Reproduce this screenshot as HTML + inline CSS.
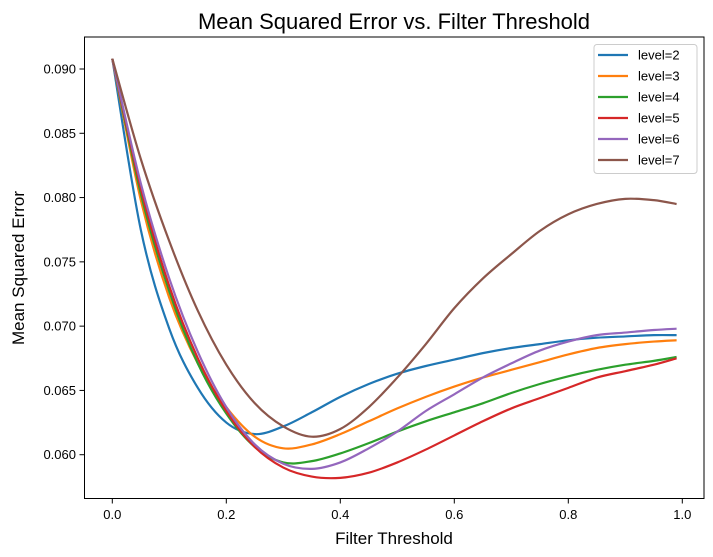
<!DOCTYPE html>
<html><head><meta charset="utf-8"><style>
body{margin:0;background:#fff;}
svg{display:block;font-family:"Liberation Sans","DejaVu Sans",sans-serif;}
</style></head><body>
<svg id="chart" width="713" height="557">
<rect x="0" y="0" width="713" height="557" fill="#fff"/>
<text x="394" y="29" font-size="22" text-anchor="middle">Mean Squared Error vs. Filter Threshold</text>
<text x="394" y="544" font-size="17" text-anchor="middle">Filter Threshold</text>
<text transform="translate(24,268) rotate(-90)" font-size="17" text-anchor="middle">Mean Squared Error</text>
<g id="ticks"></g>
<g id="lines"></g>
<rect x="84.5" y="37" width="619.5" height="461.5" fill="none" stroke="#000" stroke-width="1"/>
<g id="legend"></g>
</svg>
<script>
const xs=[0,0.05,0.1,0.15,0.2,0.25,0.3,0.35,0.4,0.45,0.5,0.55,0.6,0.65,0.7,0.75,0.8,0.85,0.9,0.95,0.99];
const labels=["level=2","level=3","level=4","level=5","level=6","level=7"];
const colors=["#1f77b4","#ff7f0e","#2ca02c","#d62728","#9467bd","#8c564b"];
const s2=[0.0908,0.0775,0.0698,0.0652,0.0625,0.0616,0.0622,0.0633,0.0645,0.0655,0.0663,0.0669,0.0674,0.0679,0.0683,0.0686,0.0689,0.0691,0.0692,0.0693,0.0693];
const s3=[0.0908,0.0798,0.0722,0.0671,0.0637,0.0614,0.0605,0.0608,0.0616,0.0626,0.0636,0.0645,0.0653,0.0660,0.0666,0.0672,0.0678,0.0683,0.0686,0.0688,0.0689];
const s4=[0.0908,0.0803,0.0727,0.0671,0.0632,0.0606,0.0594,0.0595,0.0601,0.0609,0.0618,0.0626,0.0633,0.0640,0.0648,0.0655,0.0661,0.0666,0.0670,0.0673,0.0676];
const s5=[0.0908,0.0807,0.0731,0.0675,0.0634,0.0606,0.0590,0.0583,0.0582,0.0586,0.0594,0.0604,0.0615,0.0626,0.0636,0.0644,0.0652,0.0660,0.0665,0.0670,0.0675];
const s6=[0.0908,0.0811,0.0737,0.0680,0.0637,0.0608,0.0593,0.0589,0.0594,0.0605,0.0618,0.0634,0.0647,0.0660,0.0671,0.0681,0.0688,0.0693,0.0695,0.0697,0.0698];
const s7=[0.0908,0.0830,0.0766,0.0712,0.0670,0.0640,0.0622,0.0614,0.0620,0.0637,0.0660,0.0686,0.0714,0.0737,0.0756,0.0774,0.0787,0.0795,0.0799,0.0798,0.0795];
const series=[s2,s3,s4,s5,s6,s7];
const xTicks=[0,0.2,0.4,0.6,0.8,1.0];
const xTickLabels=["0.0","0.2","0.4","0.6","0.8","1.0"];
const yTicks=[0.060,0.065,0.070,0.075,0.080,0.085,0.090];
const yTickLabels=["0.060","0.065","0.070","0.075","0.080","0.085","0.090"];
const X=v=>112.3+v*570;
const Y=v=>69-(v-0.090)*12857;
const NS="http://www.w3.org/2000/svg";
const tg=document.getElementById('ticks');
function mk(tag,attrs,parent){const e=document.createElementNS(NS,tag);for(const k in attrs)e.setAttribute(k,attrs[k]);parent.appendChild(e);return e;}
xTicks.forEach((t,i)=>{
  const l=mk('line',{x1:X(t),x2:X(t),y1:498.5,y2:503.5,stroke:'#000'},tg);
  
  
  const tx=mk('text',{x:X(t),y:519,'font-size':13,'text-anchor':'middle'},tg);
  tx.textContent=xTickLabels[i];
  
  
});
yTicks.forEach((t,i)=>{
  const l=mk('line',{x1:79.5,x2:84.5,y1:Y(t),y2:Y(t),stroke:'#000'},tg);
  
  
  const tx=mk('text',{x:76,y:Y(t)+4.5,'font-size':13,'text-anchor':'end'},tg);
  tx.textContent=yTickLabels[i];
  
  
});
function smooth(pts){
  let d=`M${pts[0][0]},${pts[0][1]}`;
  for(let i=0;i<pts.length-1;i++){
    const p0=pts[i-1]||pts[i],p1=pts[i],p2=pts[i+1],p3=pts[i+2]||p2;
    const c1=[p1[0]+(p2[0]-p0[0])/6,p1[1]+(p2[1]-p0[1])/6];
    const c2=[p2[0]-(p3[0]-p1[0])/6,p2[1]-(p3[1]-p1[1])/6];
    d+=` C${c1[0]},${c1[1]} ${c2[0]},${c2[1]} ${p2[0]},${p2[1]}`;
  }
  return d;
}
const lg=document.getElementById('lines');
series.forEach((s,k)=>{
  const pts=s.map((v,i)=>[X(xs[i]),Y(v)]);
  const p=mk('path',{d:smooth(pts),fill:'none',stroke:colors[k],'stroke-width':2.2,'stroke-linejoin':'round'},lg);
  
  
});
const leg=document.getElementById('legend');
const box=mk('rect',{x:594,y:44.5,width:103,height:129,rx:3,fill:'#fff',stroke:'#ccc','fill-opacity':0.8},leg);


labels.forEach((lab,k)=>{
  const y=55+k*21;
  const l=mk('line',{x1:598,x2:628,y1:y,y2:y,stroke:colors[k],'stroke-width':2.2},leg);
  
  
  const t=mk('text',{x:638,y:y+4.5,'font-size':13},leg);
  t.textContent=lab;
  
  
});
</script>
</body></html>
